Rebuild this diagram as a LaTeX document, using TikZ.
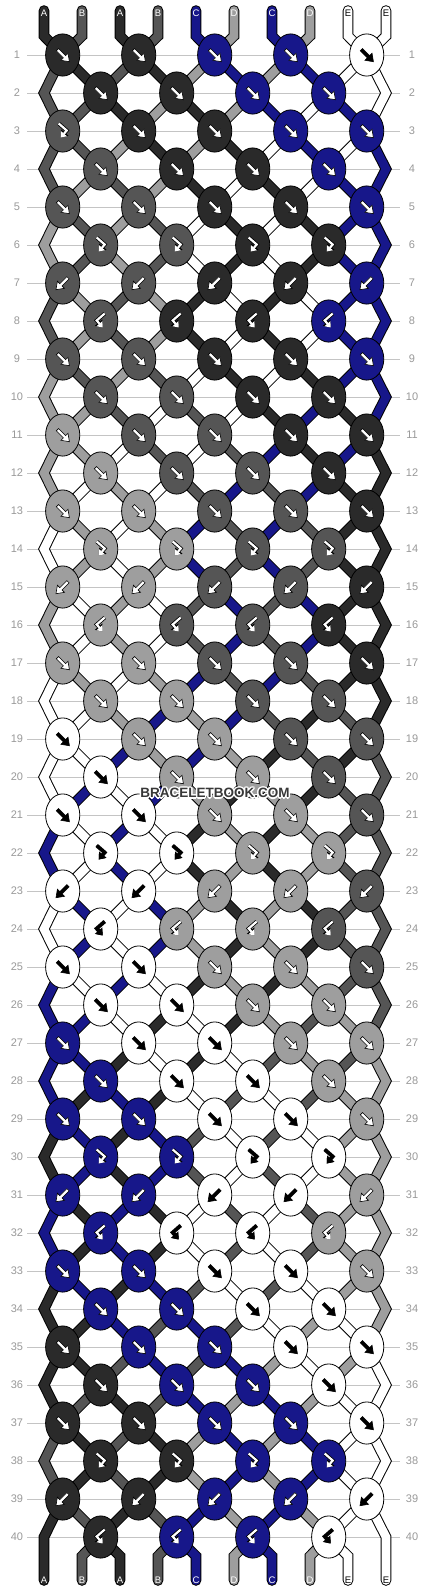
\documentclass[tikz,border=0pt]{standalone}
\usepackage{fontspec}
\setmainfont{Liberation Sans}
\usetikzlibrary{shapes.geometric,arrows.meta}
\definecolor{cK}{HTML}{2A2A2A}
\definecolor{cD}{HTML}{555555}
\definecolor{cL}{HTML}{9E9E9E}
\definecolor{cU}{HTML}{17178A}
\definecolor{cW}{HTML}{FFFFFF}
\definecolor{rowgray}{HTML}{C4C4C4}
\definecolor{numgray}{HTML}{999999}
\def\Wstr{W}
\tikzset{
  rowline/.style={draw=rowgray, line width=0.9pt},
  rownum/.style={text=numgray, font=\fontsize{11}{11}\selectfont, inner sep=0pt},
  strandout/.style={line width=10.6pt, draw=black, line join=miter},
  strandin/.style={line width=8.6pt, line join=miter},
  knot/.style={ellipse, draw=black, line width=0.8pt, minimum width=34.2pt, minimum height=42.2pt, inner sep=0pt},
  lettr/.style={font=\fontsize{9.5}{9.5}\selectfont, inner sep=0pt},
  wmark/.style={font=\bfseries\fontsize{13.5}{13.5}\selectfont, inner sep=0pt},
}
\newcommand\arF[2]{\filldraw[fill=#2,draw=black,line width=0.6pt,shift={(#1)},rotate=-45] (-7.5,-1.6) -- (2.5,-1.6) -- (2.5,-5) -- (9.5,0) -- (2.5,5) -- (2.5,1.6) -- (-7.5,1.6) -- cycle;}
\newcommand\arB[2]{\filldraw[fill=#2,draw=black,line width=0.6pt,shift={(#1)},rotate=-135] (-7.5,-1.6) -- (2.5,-1.6) -- (2.5,-5) -- (9.5,0) -- (2.5,5) -- (2.5,1.6) -- (-7.5,1.6) -- cycle;}
\newcommand\arH[2]{%
  \draw[black,line width=3.8pt,line join=miter,shift={(#1)},-{Triangle[length=6.4pt,width=9.4pt]}] (-4,-7.5) -- (4,-0.5) -- (-2,6.5);
  \draw[#2,line width=2.2pt,line join=miter,shift={(#1)},-{Triangle[length=5pt,width=7.4pt]}] (-4,-7.5) -- (4,-0.5) -- (-2,6.5);}
\newcommand\arG[2]{%
  \draw[black,line width=3.8pt,line join=miter,shift={(#1)},-{Triangle[length=6.4pt,width=9.4pt]}] (4,-7.5) -- (-4,-0.5) -- (2,6.5);
  \draw[#2,line width=2.2pt,line join=miter,shift={(#1)},-{Triangle[length=5pt,width=7.4pt]}] (4,-7.5) -- (-4,-0.5) -- (2,6.5);}
\begin{document}
\begin{tikzpicture}[x=1pt,y=-1pt]
\useasboundingbox (0,0) rectangle (430,1592);
\fill[white] (0,0) rectangle (430,1592);
% thread colour at each position, before row 1 (index 0) and after each row
\foreach \lst [count=\r from 0] in {
{K,D,K,D,U,L,U,L,W,W},{D,K,D,K,L,U,L,U,W,W},{D,D,K,L,K,L,U,W,U,W},{D,D,L,K,L,K,W,U,W,U},
{D,L,D,L,K,W,K,W,U,U},{L,D,L,D,W,K,W,K,U,U},{L,D,L,D,W,K,W,K,U,U},{D,L,D,L,K,W,K,W,U,U},
{D,L,D,L,K,W,K,W,U,U},{L,D,L,D,W,K,W,K,U,U},{L,L,D,W,D,W,K,U,K,U},{L,L,W,D,W,D,U,K,U,K},
{L,W,L,W,D,U,D,U,K,K},{W,L,W,L,U,D,U,D,K,K},{W,L,W,L,U,D,U,D,K,K},{L,W,L,W,D,U,D,U,K,K},
{L,W,L,W,D,U,D,U,K,K},{W,L,W,L,U,D,U,D,K,K},{W,W,L,U,L,U,D,K,D,K},{W,W,U,L,U,L,K,D,K,D},
{W,U,W,U,L,K,L,K,D,D},{U,W,U,W,K,L,K,L,D,D},{U,W,U,W,K,L,K,L,D,D},{W,U,W,U,L,K,L,K,D,D},
{W,U,W,U,L,K,L,K,D,D},{U,W,U,W,K,L,K,L,D,D},{U,U,W,K,W,K,L,D,L,D},{U,U,K,W,K,W,D,L,D,L},
{U,K,U,K,W,D,W,D,L,L},{K,U,K,U,D,W,D,W,L,L},{K,U,K,U,D,W,D,W,L,L},{U,K,U,K,W,D,W,D,L,L},
{U,K,U,K,W,D,W,D,L,L},{K,U,K,U,D,W,D,W,L,L},{K,K,U,D,U,D,W,L,W,L},{K,K,D,U,D,U,L,W,L,W},
{K,D,K,D,U,L,U,L,W,W},{D,K,D,K,L,U,L,U,W,W},{D,K,D,K,L,U,L,U,W,W},{K,D,K,D,U,L,U,L,W,W},
{K,D,K,D,U,L,U,L,W,W}} {
  \foreach \c [count=\i from 0] in \lst {
    \expandafter\xdef\csname S-\r-\i\endcsname{\c}
  }
}
% grid lines and row numbers
\foreach \r in {1,...,40} {
  \pgfmathsetmacro\yy{17+38*\r}
  \draw[rowline] (27,\yy) -- (400,\yy);
  \node[rownum] (nl-\r) at (17,\yy) {\r};
  \node[rownum] (nr-\r) at (412,\yy) {\r};
}
% knot positions and edge turning points
\foreach \r in {1,...,40} {
  \pgfmathtruncatemacro\odd{mod(\r,2)}
  \pgfmathsetmacro\yy{17+38*\r}
  \ifnum\odd=1
    \foreach \c in {0,2,4,6,8} { \coordinate (p-\r-\c) at ({62.7+38*\c},\yy); }
  \else
    \foreach \c in {1,3,5,7} { \coordinate (p-\r-\c) at ({62.7+38*\c},\yy); }
    \coordinate (e-\r-L) at (44,\yy);
    \coordinate (e-\r-R) at (386,\yy);
  \fi
}
\foreach \i in {0,...,9} {
  \coordinate (t-\i) at ({44+38*\i},10.5);
  \coordinate (tb-\i) at ({44+38*\i},36);
  \coordinate (bb-\i) at ({44+38*\i},1556);
  \coordinate (b-\i) at ({44+38*\i},1580.5);
}
% top threads
\foreach \i in {0,...,9} {
  \pgfmathtruncatemacro\ca{2*floor(\i/2)}
  \edef\kcol{\csname S-0-\i\endcsname}
  \draw[strandout, line cap=round] (t-\i) -- (tb-\i) -- (p-1-\ca);
  \draw[strandin, line cap=round, draw=c\kcol] (t-\i) -- (tb-\i) -- (p-1-\ca);
}
% inner thread segments
\foreach \r in {1,...,39} {
  \pgfmathtruncatemacro\rn{\r+1}
  \pgfmathtruncatemacro\odd{mod(\r,2)}
  \foreach \i in {1,...,8} {
    \ifnum\odd=1
      \pgfmathtruncatemacro\ca{2*floor(\i/2)}
      \pgfmathtruncatemacro\cb{2*floor((\i-1)/2)+1}
    \else
      \pgfmathtruncatemacro\ca{2*floor((\i-1)/2)+1}
      \pgfmathtruncatemacro\cb{2*floor(\i/2)}
    \fi
    \edef\kcol{\csname S-\r-\i\endcsname}
    \draw[strandout] (p-\r-\ca) -- (p-\rn-\cb);
    \draw[strandin, draw=c\kcol] (p-\r-\ca) -- (p-\rn-\cb);
  }
}
% edge threads
\foreach \r in {2,4,...,38} {
  \pgfmathtruncatemacro\ra{\r-1}
  \pgfmathtruncatemacro\rb{\r+1}
  \edef\kcol{\csname S-\ra-0\endcsname}
  \draw[strandout] (p-\ra-0) -- (e-\r-L) -- (p-\rb-0);
  \draw[strandin, draw=c\kcol] (p-\ra-0) -- (e-\r-L) -- (p-\rb-0);
  \edef\kcol{\csname S-\ra-9\endcsname}
  \draw[strandout] (p-\ra-8) -- (e-\r-R) -- (p-\rb-8);
  \draw[strandin, draw=c\kcol] (p-\ra-8) -- (e-\r-R) -- (p-\rb-8);
}
\draw[strandout, line cap=round] (p-39-0) -- (e-40-L) -- (b-0);
\draw[strandin, line cap=round, draw=cK] (p-39-0) -- (e-40-L) -- (b-0);
\draw[strandout, line cap=round] (p-39-8) -- (e-40-R) -- (b-9);
\draw[strandin, line cap=round, draw=cW] (p-39-8) -- (e-40-R) -- (b-9);
% bottom threads
\foreach \i in {1,...,8} {
  \pgfmathtruncatemacro\ca{2*floor((\i-1)/2)+1}
  \edef\kcol{\csname S-40-\i\endcsname}
  \draw[strandout, line cap=round] (p-40-\ca) -- (bb-\i) -- (b-\i);
  \draw[strandin, line cap=round, draw=c\kcol] (p-40-\ca) -- (bb-\i) -- (b-\i);
}
% knots
\foreach \tp [count=\r] in {F,F,M,F,F,H,B,G,F,F,F,F,F,H,B,G,F,F,F,F,F,H,B,G,F,F,F,F,F,H,B,G,F,F,F,F,F,H,B,G} {
  \pgfmathtruncatemacro\odd{mod(\r,2)}
  \pgfmathtruncatemacro\nk{ifthenelse(\odd==1,4,3)}
  \pgfmathtruncatemacro\rp{\r-1}
  \foreach \k in {0,...,\nk} {
    \pgfmathtruncatemacro\kp{ifthenelse(\odd==1,2*\k,2*\k+1)}
    \if\tp M \ifnum\k=0 \def\ty{H}\else\def\ty{F}\fi \else \let\ty\tp \fi
    \def\side{0}
    \if\ty B \def\side{1}\fi
    \if\ty G \def\side{1}\fi
    \pgfmathtruncatemacro\kq{\kp+\side}
    \edef\kcol{\csname S-\rp-\kq\endcsname}
    \node[knot, fill=c\kcol] (k-\r-\kp) at (p-\r-\kp) {};
    \ifx\kcol\Wstr \def\af{black}\else\def\af{white}\fi
    \if\ty F \arF{k-\r-\kp}{\af}\fi
    \if\ty B \arB{k-\r-\kp}{\af}\fi
    \if\ty H \arH{k-\r-\kp}{\af}\fi
    \if\ty G \arG{k-\r-\kp}{\af}\fi
  }
}
% thread letters
\foreach \i/\ch/\tc in {0/A/white,1/B/white,2/A/white,3/B/white,4/C/white,5/D/white,6/C/white,7/D/white,8/E/black,9/E/black} {
  \node[lettr, text=\tc] (lt-\i) at ({44+38*\i},12.8) {\ch};
  \node[lettr, text=\tc] (lb-\i) at ({44+38*\i},1580) {\ch};
}
% watermark with white halo
\foreach \dx/\dy in {-1/-1,0/-1,1/-1,-1/0,1/0,-1/1,0/1,1/1,-1.5/0,1.5/0,0/-1.5,0/1.5} {
  \node[wmark, text=white] at ({215+\dx},{793+\dy}) {BRACELETBOOK.COM};
}
\node[wmark, text=black!78] (wm) at (215,793) {BRACELETBOOK.COM};
\end{tikzpicture}
\end{document}
